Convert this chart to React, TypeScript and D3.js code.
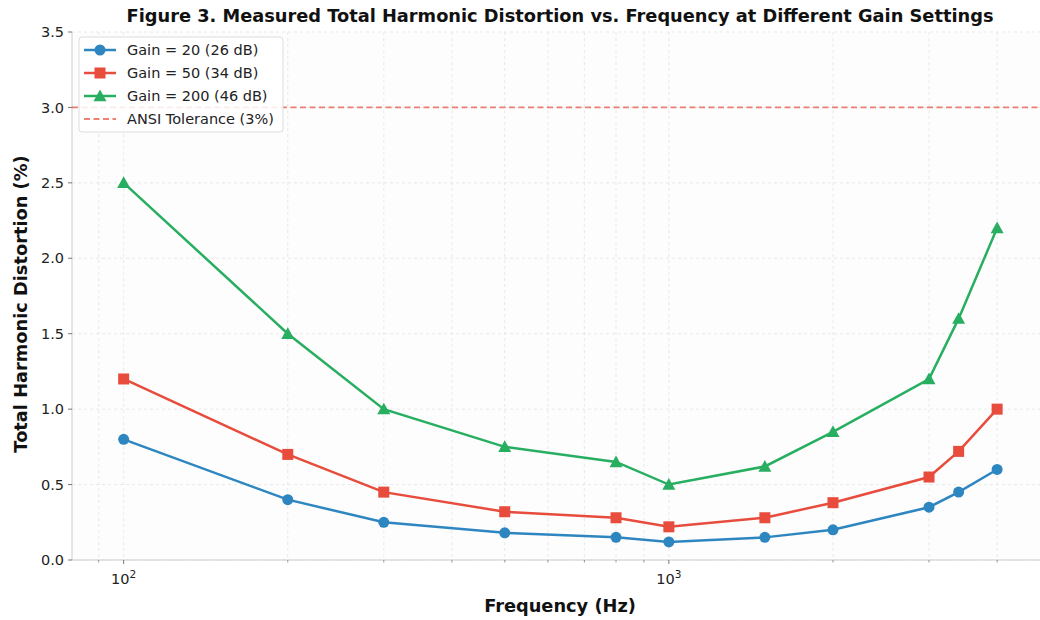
import * as d3 from 'd3';

// Frequencies (Hz) and THD (%)
const FREQS = [100, 200, 300, 500, 800, 1000, 1500, 2000, 3000, 3400, 4000];
const GAIN20 = [0.8, 0.4, 0.25, 0.18, 0.15, 0.12, 0.15, 0.2, 0.35, 0.45, 0.6];
const GAIN50 = [1.2, 0.7, 0.45, 0.32, 0.28, 0.22, 0.28, 0.38, 0.55, 0.72, 1.0];
const GAIN200 = [2.5, 1.5, 1.0, 0.75, 0.65, 0.5, 0.62, 0.85, 1.2, 1.6, 2.2];
const TOLERANCE = 3.0;
const Y_TICKS = [0, 0.5, 1.0, 1.5, 2.0, 2.5, 3.0, 3.5];
const X_MAJOR = [100, 1000];
const X_MINOR = [90, 200, 300, 400, 500, 600, 700, 800, 900, 2000, 3000, 4000];

const SERIES = [
  { label: 'Gain = 20 (26 dB)', values: GAIN20, color: '#2e86c1', marker: 'circle' },
  { label: 'Gain = 50 (34 dB)', values: GAIN50, color: '#e74c3c', marker: 'square' },
  { label: 'Gain = 200 (46 dB)', values: GAIN200, color: '#27ae60', marker: 'triangle' },
];

const FONT = '"DejaVu Sans", sans-serif';
const W = 1040;
const H = 620;
const M = { left: 72, right: 1049, top: 32, bottom: 560 };

function Marker({ kind, x, y, color }: { kind: string; x: number; y: number; color: string }) {
  if (kind === 'circle') return <circle cx={x} cy={y} r={5.5} fill={color} />;
  if (kind === 'square') return <rect x={x - 5.5} y={y - 5.5} width={11} height={11} fill={color} />;
  const s = 6.5;
  return <path d={`M${x},${y - s}L${x + s},${y + s * 0.8}L${x - s},${y + s * 0.8}Z`} fill={color} />;
}

export default function App() {
  const x = d3.scaleLog().domain([80.4, 4980]).range([M.left, M.right]);
  const y = d3.scaleLinear().domain([0, 3.5]).range([M.bottom, M.top]);

  const line = d3
    .line<number>()
    .x((_, i) => x(FREQS[i]))
    .y((d) => y(d));

  const gridStyle = { stroke: '#e3e3e3', strokeWidth: 0.8, strokeDasharray: '3,3' };
  const tolStyle = { stroke: '#e74c3c', strokeOpacity: 0.7, strokeWidth: 1.8, strokeDasharray: '6,3.5' };

  return (
    <svg
      width={W}
      height={H}
      style={{ position: 'absolute', left: 0, top: 0, background: '#fff' }}
      fontFamily={FONT}
    >
      <defs>
        <clipPath id="plot">
          <rect x={M.left} y={M.top} width={M.right - M.left} height={M.bottom - M.top} />
        </clipPath>
      </defs>
      <rect x={M.left} y={M.top} width={M.right - M.left} height={M.bottom - M.top} fill="#fdfdfd" />

      {/* grid */}
      <g>
        {Y_TICKS.map((t) => (
          <line key={'gy' + t} x1={M.left} x2={M.right} y1={y(t)} y2={y(t)} {...gridStyle} />
        ))}
        {[...X_MAJOR, ...X_MINOR].map((t) => (
          <line key={'gx' + t} x1={x(t)} x2={x(t)} y1={M.top} y2={M.bottom} {...gridStyle} />
        ))}
      </g>

      {/* spines */}
      <line x1={M.left} x2={M.left} y1={M.top} y2={M.bottom} stroke="#cccccc" strokeWidth={1} />
      <line x1={M.left} x2={M.right} y1={M.bottom} y2={M.bottom} stroke="#cccccc" strokeWidth={1} />

      {/* y ticks */}
      {Y_TICKS.map((t) => (
        <g key={'yt' + t}>
          <line x1={M.left - 4} x2={M.left} y1={y(t)} y2={y(t)} stroke="#555" strokeWidth={0.8} />
          <text x={M.left - 8} y={y(t)} dy="0.35em" textAnchor="end" fontSize={14.5} fill="#222">
            {t.toFixed(1)}
          </text>
        </g>
      ))}

      {/* x ticks */}
      {X_MINOR.map((t) => (
        <line key={'xm' + t} x1={x(t)} x2={x(t)} y1={M.bottom} y2={M.bottom + 2.5} stroke="#555" strokeWidth={0.6} />
      ))}
      {X_MAJOR.map((t) => (
        <g key={'xt' + t}>
          <line x1={x(t)} x2={x(t)} y1={M.bottom} y2={M.bottom + 4} stroke="#555" strokeWidth={0.8} />
          <text x={x(t)} y={M.bottom + 24} textAnchor="middle" fontSize={14.5} fill="#222">
            10<tspan dy={-6} fontSize={10.5}>{Math.round(Math.log10(t))}</tspan>
          </text>
        </g>
      ))}

      {/* tolerance line */}
      <line x1={M.left} x2={M.right} y1={y(TOLERANCE)} y2={y(TOLERANCE)} {...tolStyle} />

      {/* series */}
      <g clipPath="url(#plot)">
        {SERIES.map((s) => (
          <g key={s.label}>
            <path d={line(s.values) ?? ''} fill="none" stroke={s.color} strokeWidth={2.5} />
            {s.values.map((v, i) => (
              <Marker key={i} kind={s.marker} x={x(FREQS[i])} y={y(v)} color={s.color} />
            ))}
          </g>
        ))}
      </g>

      {/* legend */}
      <g transform="translate(79,37)">
        <rect x={0} y={0} width={204} height={95} rx={3} fill="#fff" fillOpacity={0.85} stroke="#dddddd" />
        {SERIES.map((s, i) => (
          <g key={s.label} transform={`translate(0,${13 + i * 23})`}>
            <line x1={5} x2={37} y1={0} y2={0} stroke={s.color} strokeWidth={2.5} />
            <Marker kind={s.marker} x={21} y={0} color={s.color} />
            <text x={48} y={0} dy="0.35em" fontSize={14.5} fill="#222">
              {s.label}
            </text>
          </g>
        ))}
        <g transform={`translate(0,${13 + 3 * 23})`}>
          <line x1={5} x2={37} y1={0} y2={0} {...tolStyle} />
          <text x={48} y={0} dy="0.35em" fontSize={14.5} fill="#222">
            ANSI Tolerance (3%)
          </text>
        </g>
      </g>

      {/* titles */}
      <text x={560} y={22} textAnchor="middle" fontSize={17.8} fontWeight="bold" fill="#111">
        Figure 3. Measured Total Harmonic Distortion vs. Frequency at Different Gain Settings
      </text>
      <text x={560} y={612} textAnchor="middle" fontSize={17.8} fontWeight="bold" fill="#111">
        Frequency (Hz)
      </text>
      <text
        transform={`translate(27,${(M.top + M.bottom) / 2 + 8}) rotate(-90)`}
        textAnchor="middle"
        fontSize={17.8}
        fontWeight="bold"
        fill="#111"
      >
        Total Harmonic Distortion (%)
      </text>
    </svg>
  );
}
